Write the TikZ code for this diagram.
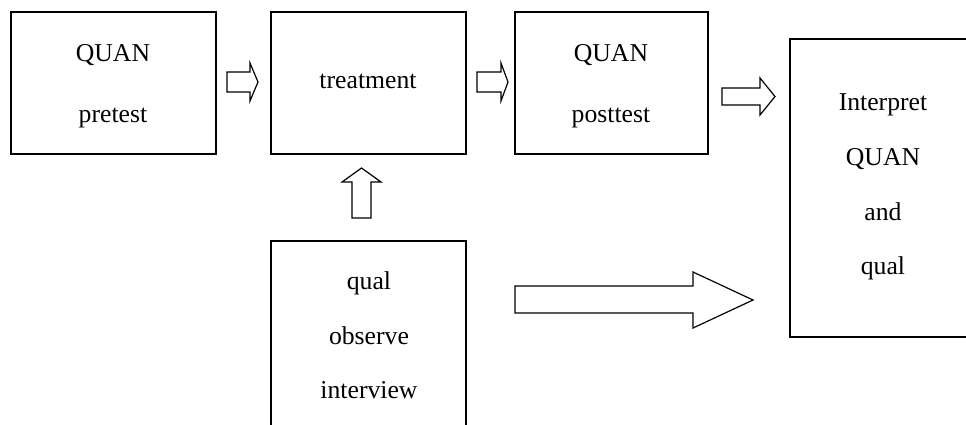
\documentclass[tikz,border=0pt]{standalone}
\usepackage{fontspec}
\setmainfont{Liberation Serif}
\begin{document}
\begin{tikzpicture}[x=1pt,y=-1pt,
  boxnode/.style={draw=black,line width=1.6pt,rectangle,inner sep=0pt,fill=none},
  txt/.style={anchor=base,inner sep=0pt,font=\fontsize{25.7}{30}\selectfont},
  blockarrow/.style={draw=black,line width=1.2pt,fill=white,line join=miter}]
\clip (0,0) rectangle (966,424);
\fill[white] (0,0) rectangle (966,424);
% boxes
\node[boxnode,minimum width=205pt,minimum height=142pt] (pre) at (113.5,83) {};
\node[boxnode,minimum width=195pt,minimum height=142pt] (treat) at (368.5,83) {};
\node[boxnode,minimum width=193pt,minimum height=142pt] (post) at (611.5,83) {};
\node[boxnode,minimum width=186pt,minimum height=298pt] (interp) at (883,188) {};
\node[boxnode,minimum width=195pt,minimum height=204pt] (qual) at (368.5,343) {};
% texts
\node[txt] (t1a) at (113,61) {QUAN};
\node[txt] (t1b) at (113,122.5) {pretest};
\node[txt] (t2) at (368,88.3) {treatment};
\node[txt] (t3a) at (611,61) {QUAN};
\node[txt] (t3b) at (611,122.5) {posttest};
\node[txt] (t4a) at (883,110.5) {Interpret};
\node[txt] (t4b) at (883,165.5) {QUAN};
\node[txt] (t4c) at (883,220.5) {and};
\node[txt] (t4d) at (883,274.5) {qual};
\node[txt] (t5a) at (369,289) {qual};
\node[txt] (t5b) at (369,344) {observe};
\node[txt] (t5c) at (369,398) {interview};
% block arrows
\draw[blockarrow] (227,72) -- (250,72) -- (250,63) -- (258,82) -- (250,101) -- (250,92) -- (227,92) -- cycle;
\draw[blockarrow] (477,72) -- (501,72) -- (501,63) -- (508,82) -- (501,101) -- (501,92) -- (477,92) -- cycle;
\draw[blockarrow] (722,88) -- (760,88) -- (760,78) -- (775,96.5) -- (760,115) -- (760,105) -- (722,105) -- cycle;
\draw[blockarrow] (352,218) -- (352,182) -- (342,182) -- (361.5,168) -- (381,182) -- (371,182) -- (371,218) -- cycle;
\draw[blockarrow] (515,286) -- (693,286) -- (693,272) -- (753,300) -- (693,328) -- (693,313) -- (515,313) -- cycle;
\end{tikzpicture}
\end{document}
